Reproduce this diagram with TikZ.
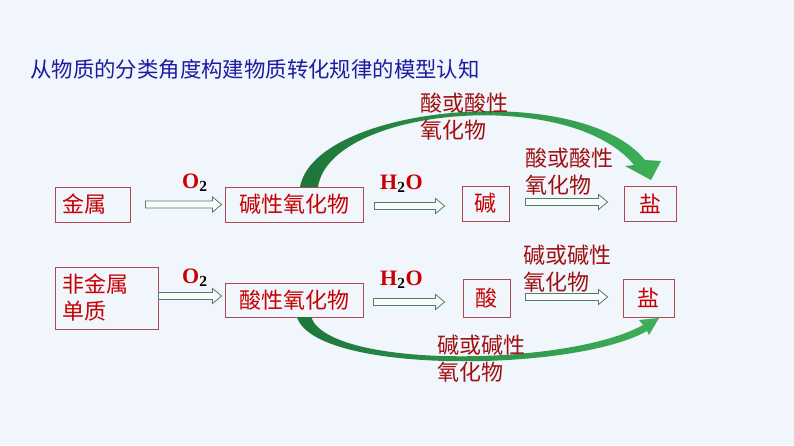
\documentclass[tikz,border=0pt]{standalone}
\usepackage{fontspec}
\setmainfont{Liberation Serif}
\newfontfamily\cjk{Noto Sans CJK SC}
\usetikzlibrary{calc}
\definecolor{bg}{RGB}{240,246,252}
\definecolor{titleblue}{RGB}{28,28,160}
\definecolor{boxc}{RGB}{176,72,84}
\definecolor{boxtext}{RGB}{200,0,0}
\definecolor{labtext}{RGB}{160,16,16}
\definecolor{chemred}{RGB}{204,0,0}
\definecolor{arrowc}{RGB}{80,125,110}
\definecolor{arrowfill}{RGB}{250,253,252}
\definecolor{gdark}{RGB}{30,118,58}
\definecolor{glight}{RGB}{62,176,88}
\tikzset{
  box/.style={draw=boxc, line width=0.9pt, text=boxtext, font=\cjk\fontsize{22}{27}\selectfont, inner sep=0pt},
  lab/.style={anchor=north west, inner sep=0pt, align=left, text=labtext, font=\cjk\fontsize{22}{27}\selectfont},
  chem/.style={anchor=west, inner sep=0pt, text=chemred, font=\bfseries\fontsize{22}{24}\selectfont},
  hollow/.style={draw=arrowc, fill=arrowfill, line width=0.8pt, line join=miter,
    to path={let \p1=(\tikztostart), \p2=(\tikztotarget) in
      (\x1,\y1+3.5pt) -- (\x2-9pt,\y1+3.5pt) -- (\x2-9pt,\y1+7.5pt) -- (\x2,\y1)
      -- (\x2-9pt,\y1-7.5pt) -- (\x2-9pt,\y1-3.5pt) -- (\x1,\y1-3.5pt) -- cycle}},
  greenarc/.style={left color=gdark, right color=glight, draw=none}
}
\begin{document}
\begin{tikzpicture}[x=1pt,y=-1pt]
\path[fill=bg] (0,0) rectangle (794,445);
\useasboundingbox (0,0) rectangle (794,445);

% title
\node[anchor=west, inner sep=0pt, text=titleblue, font=\cjk\fontsize{21.4}{24}\selectfont] (title) at (30,69) {从物质的分类角度构建物质转化规律的模型认知};

% boxes
\node[box, minimum height=35pt, text width=61pt, inner xsep=7pt, align=left] (jinshu) at (92.5,204.5) {金属};
\node[box, minimum height=62pt, text width=89pt, inner xsep=7pt, align=left] (fjs) at (106.5,298) {非金属\\单质};
\node[box, minimum width=138pt, minimum height=35pt] (jxyh) at (294,204.5) {碱性氧化物};
\node[box, minimum width=138pt, minimum height=34pt] (sxyh) at (294,300) {酸性氧化物};
\node[box, minimum width=47pt, minimum height=35pt] (jian) at (485.5,203.5) {碱};
\node[box, minimum width=47pt, minimum height=38pt] (suan) at (486.5,298) {酸};
\node[box, minimum width=52pt, minimum height=35pt] (yan1) at (650,203.5) {盐};
\node[box, minimum width=51pt, minimum height=38pt] (yan2) at (648.5,298) {盐};

% hollow arrows
\draw[hollow] ($(jinshu.east)+(15,0)$) to ($(jxyh.west)+(-3,0)$);
\draw[hollow] ($(fjs.east)+(0,-2)$) to ($(sxyh.west)+(-3,0)$);
\draw[hollow] ($(jxyh.east)+(11,1.5)$) to ($(jian.west)+(-17,0)$);
\draw[hollow] ($(jian.east)+(16,-1.5)$) to ($(yan1.west)+(-16,0)$);
\draw[hollow] ($(sxyh.east)+(10,2)$) to ($(suan.west)+(-18,0)$);
\draw[hollow] ($(suan.east)+(15,-1)$) to ($(yan2.west)+(-15,0)$);

% arrow labels
\node[chem] (o2a) at (182,183) {O\textsubscript{\color{black}2}};
\node[chem] (o2b) at (182,278) {O\textsubscript{\color{black}2}};
\node[chem] (h2oa) at (380,184) {H\textsubscript{\color{black}2}O};
\node[chem] (h2ob) at (380,280) {H\textsubscript{\color{black}2}O};

% green curved arrows
\path[greenarc] (300,187) .. controls (315,105) and (580,80) .. (645,160)
  -- (661,161) -- (651,180) -- (625,166) -- (634,165)
  .. controls (570,86) and (330,107) .. (318,187) -- cycle;
\path[greenarc] (297,317) .. controls (315,375) and (575,372) .. (647,331)
  -- (649,335) -- (659,318) -- (639,320) -- (643,325)
  .. controls (570,366) and (330,370) .. (311,317) -- cycle;

% text labels
\node[lab] (l1) at (420,93) {酸或酸性\\氧化物};
\node[lab] (l2) at (525,148) {酸或酸性\\氧化物};
\node[lab] (l3) at (523,245) {碱或碱性\\氧化物};
\node[lab] (l4) at (437,335) {碱或碱性\\氧化物};
\end{tikzpicture}
\end{document}
